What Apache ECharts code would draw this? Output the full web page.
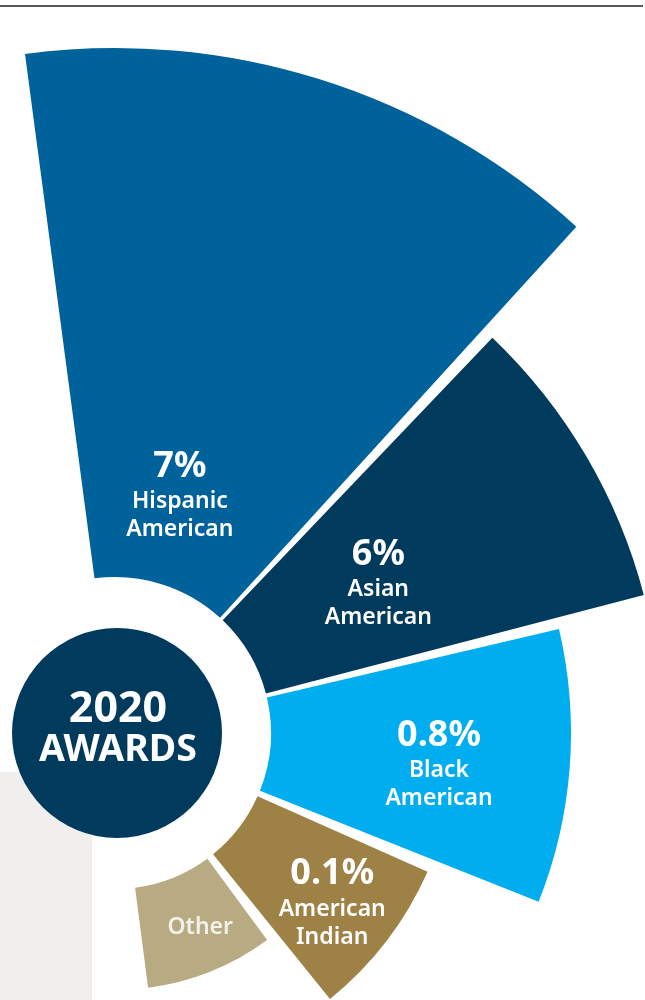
<!DOCTYPE html>
<html>
<head>
<meta charset="utf-8">
<script src="https://cdn.jsdelivr.net/npm/echarts@6/dist/echarts.min.js"></script>
<style>
  html, body { margin: 0; padding: 0; background: #ffffff; }
  #chart { width: 645px; height: 1000px; }
</style>
</head>
<body>
<div id="chart"></div>
<script>
// Share of 2020 awards by group
const groups = [['Hispanic', 'American'], ['Asian', 'American'], ['Black', 'American'], ['American', 'Indian'], ['Other']];
const shares = [7, 6, 0.8, 0.1, null];

// Angular span (degrees, counter-clockwise from 3 o'clock) and reach of each wedge
const angleFrom = [97.55, 46.33, 13.18, -23.95, -53.7];
const angleTo = [47.66, 14.62, -21.73, -51.05, -82.6];
const reach = [685, 546.5, 456, 342, 257];
const innerReach = 156;

// Layout: where each text block sits, as [radius, angle]
const labelAnchor = [[274, 76.3], [318, 34.1], [324, -0.4], [259, -33], [212, -66.3]];

const colors = ['#00629b', '#003a5c', '#00adee', '#9e8245', '#b8aa83'];
const FONT = '"Noto Sans", "Open Sans", sans-serif';

const seriesData = groups.map((g, i) => ({
  value: [angleFrom[i], angleTo[i], reach[i]],
  itemStyle: { color: colors[i] }
}));

function renderItem(params, api) {
  const i = params.dataIndex;
  const cs = params.coordSys;
  const a0 = api.value(0), a1 = api.value(1), rv = api.value(2);
  const pStart = api.coord([rv, a0]);
  const pEnd = api.coord([rv, a1]);
  const pIn = api.coord([innerReach, a0]);
  const r = Math.hypot(pStart[0] - cs.cx, pStart[1] - cs.cy);
  const r0 = Math.hypot(pIn[0] - cs.cx, pIn[1] - cs.cy);
  const s = Math.atan2(pStart[1] - cs.cy, pStart[0] - cs.cx);
  const e = Math.atan2(pEnd[1] - cs.cy, pEnd[0] - cs.cx);

  const children = [{
    type: 'sector',
    shape: { cx: cs.cx, cy: cs.cy, r0: r0, r: r, startAngle: s, endAngle: e, clockwise: true },
    style: { fill: colors[i] }
  }];

  const at = api.coord(labelAnchor[i]);
  const lines = groups[i];
  let y = at[1];
  if (shares[i] != null) {
    children.push({
      type: 'text',
      x: at[0], y: y,
      style: {
        text: shares[i] + '%', fill: '#ffffff',
        fontFamily: FONT, fontWeight: 'bold', fontSize: 36,
        align: 'center', verticalAlign: 'middle'
      }
    });
    y += 35;
  }
  lines.forEach((t, k) => {
    children.push({
      type: 'text',
      x: at[0], y: y + k * 28,
      style: {
        text: t, fill: i === 4 ? '#f4f1ea' : '#ffffff',
        fontFamily: FONT, fontWeight: 600, fontSize: 23,
        align: 'center', verticalAlign: 'middle'
      }
    });
  });
  return { type: 'group', children: children };
}

const chart = echarts.init(document.getElementById('chart'), null, { renderer: 'canvas' });
chart.setOption({
  backgroundColor: '#ffffff',
  animation: false,
  polar: { center: [115, 733], radius: [0, 700] },
  angleAxis: { type: 'value', min: -180, max: 180, startAngle: 180, clockwise: false, show: false },
  radiusAxis: { type: 'value', min: 0, max: 700, show: false },
  series: [{
    type: 'custom',
    coordinateSystem: 'polar',
    encode: { angle: [0, 1], radius: 2 },
    renderItem: renderItem,
    data: seriesData
  }],
  graphic: [
    { type: 'line', z: 10, shape: { x1: 0, y1: 6, x2: 643, y2: 6 }, style: { stroke: '#231f20', lineWidth: 1.5 } },
    { type: 'rect', z: 1, shape: { x: 0, y: 772, width: 92, height: 228 }, style: { fill: '#f0efee' } },
    { type: 'circle', z: 5, shape: { cx: 117, cy: 733, r: 105 }, style: { fill: '#003a5c' } },
    { type: 'text', z: 6, x: 118, y: 710, style: { text: '2020', fill: '#ffffff', fontFamily: FONT, fontWeight: 'bold', fontSize: 43, align: 'center', verticalAlign: 'middle' } },
    { type: 'text', z: 6, x: 118, y: 750, style: { text: 'AWARDS', fill: '#ffffff', fontFamily: FONT, fontWeight: 'bold', fontSize: 37.5, align: 'center', verticalAlign: 'middle' } }
  ]
});
</script>
</body>
</html>
